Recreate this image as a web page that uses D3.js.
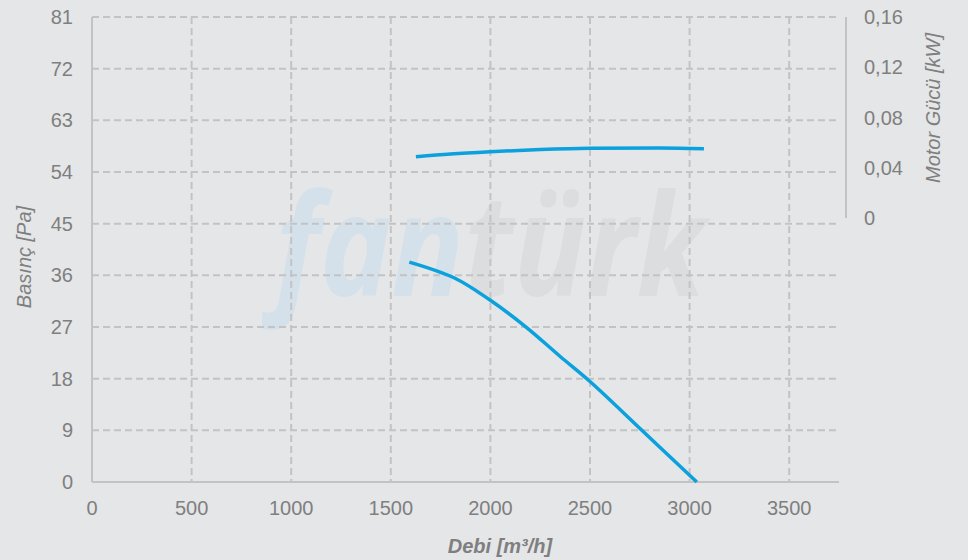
<!DOCTYPE html>
<html>
<head>
<meta charset="utf-8">
<script src="https://cdn.jsdelivr.net/npm/d3@7"></script>
<style>
  body { margin: 0; background: #e5e6e8; }
  text { font-family: "Liberation Sans", Arial, sans-serif; fill: #7f7f7f; }
</style>
</head>
<body>
<div class="container"></div>
<script>
// debi [m3/h] vs basinc [Pa]
let pressureFlow = [1593, 1822, 1998, 2182, 2349, 2500, 2759, 3036];
let pressureVals = [38.3, 35.5, 31.7, 26.9, 21.9, 17.5, 9.06, 0];
// debi vs motor gucu [kW]
let powerFlow = [1626, 1800, 1998, 2250, 2500, 2850, 3072];
let powerVals = [0.0488, 0.0510, 0.0528, 0.0545, 0.0555, 0.0558, 0.0552];

let xTicks = [0, 500, 1000, 1500, 2000, 2500, 3000, 3500];
let yTicks = [0, 9, 18, 27, 36, 45, 54, 63, 72, 81];
let y2Ticks = [0, 0.04, 0.08, 0.12, 0.16];

let W = 968, H = 560;
let plotL = 92, plotR = 839, plotT = 17, plotB = 482;

let x = d3.scaleLinear().domain([0, 3750]).range([plotL, plotR]);
let y = d3.scaleLinear().domain([0, 81]).range([plotB, plotT]);
let y2 = d3.scaleLinear().domain([0, 0.16]).range([218, plotT]);

let svg = d3.select(".container").append("svg")
    .attr("width", W)
    .attr("height", H);

svg.append("rect").attr("width", W).attr("height", H).attr("fill", "#e5e6e8");

// watermark
let wm = svg.append("text")
    .attr("x", 275)
    .attr("y", 296)
    .style("font-size", "142px")
    .style("font-weight", "bold")
    .style("font-style", "italic")
    .style("font-family", "'Open Sans', 'Liberation Sans', sans-serif")
    .attr("textLength", 430)
    .attr("lengthAdjust", "spacingAndGlyphs");
wm.append("tspan").text("fan").style("fill", "#d4e1ea");
wm.append("tspan").text("türk").style("fill", "#dbdddf");

// grid
let grid = svg.append("g")
    .attr("stroke", "#c3c3c3")
    .attr("stroke-width", 2)
    .attr("stroke-dasharray", "7,4");

grid.selectAll(".hg")
    .data(yTicks.filter(d => d > 0))
    .enter().append("line")
    .attr("x1", plotL).attr("x2", plotR)
    .attr("y1", d => y(d)).attr("y2", d => y(d));

grid.selectAll(".vg")
    .data(xTicks.filter(d => d > 0))
    .enter().append("line")
    .attr("x1", d => x(d)).attr("x2", d => x(d))
    .attr("y1", plotT).attr("y2", plotB);

// axis lines
svg.append("line")
    .attr("x1", plotL).attr("x2", plotL).attr("y1", plotT).attr("y2", plotB)
    .attr("stroke", "#c3c3c3").attr("stroke-width", 2);
svg.append("line")
    .attr("x1", plotL).attr("x2", plotR).attr("y1", plotB).attr("y2", plotB)
    .attr("stroke", "#c3c3c3").attr("stroke-width", 2);
svg.append("line")
    .attr("x1", 846).attr("x2", 846).attr("y1", y2(0.16)).attr("y2", y2(0))
    .attr("stroke", "#c3c3c3").attr("stroke-width", 2);

// tick labels
svg.selectAll(".xl")
    .data(xTicks)
    .enter().append("text")
    .attr("x", d => x(d))
    .attr("y", 515)
    .attr("text-anchor", "middle")
    .style("font-size", "20px")
    .text(d => d);

svg.selectAll(".yl")
    .data(yTicks)
    .enter().append("text")
    .attr("x", 73)
    .attr("y", d => y(d) + 7)
    .attr("text-anchor", "end")
    .style("font-size", "20px")
    .text(d => d);

svg.selectAll(".y2l")
    .data(y2Ticks)
    .enter().append("text")
    .attr("x", 864)
    .attr("y", d => y2(d) + 7)
    .style("font-size", "20px")
    .text(d => d === 0 ? "0" : d3.format(".2f")(d).replace(".", ","));

// axis titles
svg.append("text")
    .text("Debi [m³/h]")
    .attr("x", 500)
    .attr("y", 553)
    .attr("text-anchor", "middle")
    .style("font-size", "20px")
    .style("font-weight", "bold")
    .style("font-style", "italic");

svg.append("text")
    .text("Basınç [Pa]")
    .attr("transform", "translate(31,257) rotate(-90)")
    .attr("text-anchor", "middle")
    .style("font-size", "20px")
    .style("font-style", "italic");

svg.append("text")
    .text("Motor Gücü [kW]")
    .attr("transform", "translate(940,108) rotate(-90)")
    .attr("text-anchor", "middle")
    .style("font-size", "20px")
    .style("font-style", "italic");

// curves
let pLine = d3.line()
    .x(d => x(d[0]))
    .y(d => y(d[1]))
    .curve(d3.curveCatmullRom);

let wLine = d3.line()
    .x(d => x(d[0]))
    .y(d => y2(d[1]))
    .curve(d3.curveMonotoneX);

svg.append("path")
    .datum(d3.zip(pressureFlow, pressureVals))
    .attr("d", pLine)
    .attr("fill", "none")
    .attr("stroke", "#0aa1dd")
    .attr("stroke-width", 3.5);

svg.append("path")
    .datum(d3.zip(powerFlow, powerVals))
    .attr("d", wLine)
    .attr("fill", "none")
    .attr("stroke", "#0aa1dd")
    .attr("stroke-width", 3.5);
</script>
</body>
</html>
